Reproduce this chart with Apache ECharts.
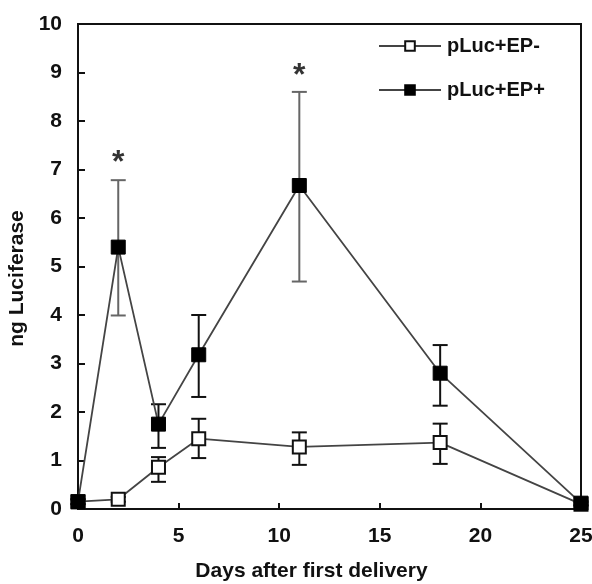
<!DOCTYPE html>
<html><head><meta charset="utf-8">
<script src="https://cdn.jsdelivr.net/npm/echarts@6/dist/echarts.min.js"></script>
<style>html,body{margin:0;padding:0;background:#fff}#c{width:592px;height:584px}</style>
</head><body><div id="c"></div>
<script>
var days = [0, 2, 4, 6, 11, 18, 25];
var epMinus = [0.15, 0.2, 0.86, 1.45, 1.28, 1.37, 0.1];
var epMinusLow = [0.1, 0.15, 0.56, 1.05, 0.91, 0.93, 0.07];
var epMinusHigh = [0.2, 0.25, 1.07, 1.86, 1.58, 1.76, 0.13];
var epPlus = [0.15, 5.4, 1.75, 3.18, 6.67, 2.8, 0.12];
var epPlusLow = [0.1, 3.99, 1.26, 2.31, 4.69, 2.13, 0.08];
var epPlusHigh = [0.2, 6.78, 2.16, 4.0, 8.6, 3.38, 0.16];
var starDays = [2, 11];
var starY = [7.25, 9.05];
var xTicks = [0, 5, 10, 15, 20, 25];
var yTicks = [0, 1, 2, 3, 4, 5, 6, 7, 8, 9, 10];

var FONT = 'Liberation Sans';
function pairs(xs, ys){ return xs.map(function(x,i){return [x, ys[i]];}); }
function errData(lo, hi){ return days.map(function(d,i){return [d, lo[i], hi[i]];}); }
function errSeries(lo, hi, colors){
  return {
    type: 'custom', silent: true, z: 1,
    data: errData(lo, hi),
    renderItem: function(params, api){
      var x = api.value(0);
      var a = api.coord([x, api.value(1)]);
      var b = api.coord([x, api.value(2)]);
      var w = 7.5;
      var col = colors[params.dataIndex] || '#111';
      var st = {stroke: col, lineWidth: 2, fill: null};
      return {type: 'group', children: [
        {type: 'line', shape: {x1: a[0], y1: a[1], x2: b[0], y2: b[1]}, style: st},
        {type: 'line', shape: {x1: a[0]-w, y1: a[1], x2: a[0]+w, y2: a[1]}, style: st},
        {type: 'line', shape: {x1: b[0]-w, y1: b[1], x2: b[0]+w, y2: b[1]}, style: st}
      ]};
    }
  };
}

var chart = echarts.init(document.getElementById('c'));
chart.setOption({
  animation: false,
  backgroundColor: '#fff',
  textStyle: {fontFamily: FONT},
  grid: {left: 78, right: 11, top: 24, bottom: 75, containLabel: false, outerBoundsMode: 'none',
    show: true, borderColor: '#111', borderWidth: 2, backgroundColor: 'transparent'},
  legend: {
    left: 373, top: 31, orient: 'vertical', itemGap: 24, itemWidth: 62, itemHeight: 12,
    textStyle: {fontFamily: FONT, fontWeight: 'bold', fontSize: 20, color: '#111', padding: [0, 0, 0, 1]},
    data: ['pLuc+EP-', 'pLuc+EP+']
  },
  xAxis: {
    type: 'value', min: 0, max: 25, interval: 5,
    name: 'Days after first delivery', nameLocation: 'middle', nameGap: 52,
    nameTextStyle: {fontFamily: FONT, fontWeight: 'bold', fontSize: 21, color: '#111', padding: [0, 36, 0, 0]},
    axisLine: {show: true, onZero: false, lineStyle: {color: '#111', width: 2}},
    axisTick: {show: true, inside: true, length: 6, lineStyle: {color: '#111', width: 2}},
    axisLabel: {fontFamily: FONT, fontWeight: 'bold', fontSize: 21, color: '#111', margin: 17,
      formatter: function(v){ return xTicks.indexOf(v) >= 0 ? String(v) : ''; }},
    splitLine: {show: false}
  },
  yAxis: {
    type: 'value', min: 0, max: 10, interval: 1,
    name: 'ng Luciferase', nameLocation: 'middle', nameGap: 50, nameRotate: 90,
    nameTextStyle: {fontFamily: FONT, fontWeight: 'bold', fontSize: 21, color: '#111', padding: [0, 24, 0, 0]},
    axisLine: {show: true, onZero: false, lineStyle: {color: '#111', width: 2}},
    axisTick: {show: true, inside: true, length: 7, lineStyle: {color: '#111', width: 2}},
    axisLabel: {fontFamily: FONT, fontWeight: 'bold', fontSize: 21, color: '#111', margin: 16,
      formatter: function(v){ return yTicks.indexOf(v) >= 0 ? String(v) : ''; }},
    splitLine: {show: false}
  },
  series: [
    errSeries(epMinusLow, epMinusHigh, []),
    errSeries(epPlusLow, epPlusHigh, {1: '#666', 4: '#666'}),
    {
      name: 'pLuc+EP-', type: 'line', z: 3, data: pairs(days, epMinus),
      symbol: 'rect', symbolSize: 13,
      itemStyle: {color: '#fff', borderColor: '#111', borderWidth: 2},
      lineStyle: {color: '#444', width: 1.8}
    },
    {
      name: 'pLuc+EP+', type: 'line', z: 4, data: pairs(days, epPlus),
      symbol: 'rect', symbolSize: 14,
      itemStyle: {color: '#000', borderColor: '#000', borderWidth: 1},
      lineStyle: {color: '#444', width: 1.8}
    },
    {
      type: 'scatter', silent: true, data: pairs(starDays, starY), symbolSize: 0,
      label: {show: true, position: 'inside', formatter: '*', fontFamily: FONT, fontWeight: 'bold', fontSize: 32, color: '#000', offset: [0, 6]}
    }
  ]
});
</script></body></html>
